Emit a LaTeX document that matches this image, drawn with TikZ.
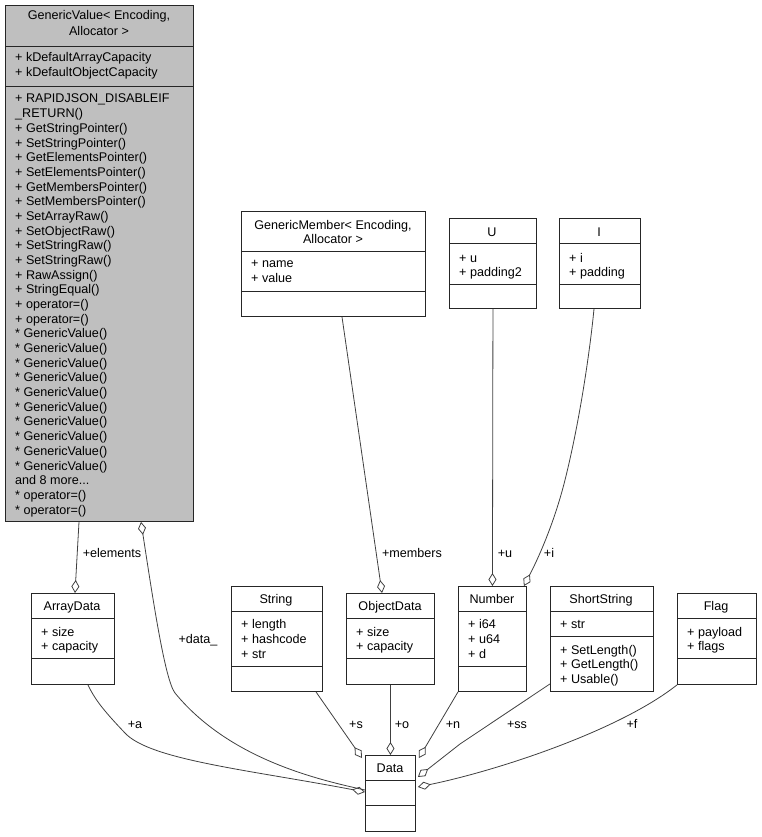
\documentclass[tikz,border=0pt]{standalone}
\usepackage{fontspec}
\setmainfont{Liberation Sans}
\usetikzlibrary{arrows.meta,calc}
\begin{document}
\begin{tikzpicture}[x=1pt,y=-1pt,
  box/.style={draw=black!85,line width=0.9pt,fill=white,inner sep=0pt,anchor=north west},
  lbl/.style={inner sep=0pt,anchor=base west,font=\fontsize{12.6}{14}\selectfont},
  ttl/.style={inner sep=0pt,anchor=base,font=\fontsize{12.6}{14}\selectfont},
  conn/.style={draw=black!75,line width=0.8pt,{Diamond[open,length=13pt,width=8pt,line width=0.8pt]}-},
  elab/.style={inner sep=0pt,anchor=base,font=\fontsize{12.6}{14}\selectfont}]
\useasboundingbox (0,0) rectangle (761,837);
\newcommand{\umlbox}[7]{%
  \node[box,minimum width={#4-#2},minimum height={#5-#3}] (#1) at (#2,#3) {};
  \draw[black!85,line width=0.9pt] (#2,#6) -- (#4,#6) (#2,#7) -- (#4,#7);}
% GenericValue
\node[box,fill={rgb,255:red,191;green,191;blue,191},minimum width=188,minimum height=516] (gv) at (5,5) {};
\draw[black!85,line width=0.9pt] (5,46) -- (193,46) (5,86) -- (193,86);
\node[ttl] (gvt1) at (99,20) {GenericValue< Encoding,};
\node[ttl] (gvt2) at (99,36) {Allocator >};
\node[lbl] (gva1) at (15,62) {+ kDefaultArrayCapacity};
\node[lbl] (gva2) at (15,77) {+ kDefaultObjectCapacity};
\foreach \t [count=\i from 0] in {{+ RAPIDJSON\_DISABLEIF},{\_RETURN()},{+ GetStringPointer()},{+ SetStringPointer()},{+ GetElementsPointer()},{+ SetElementsPointer()},{+ GetMembersPointer()},{+ SetMembersPointer()},{+ SetArrayRaw()},{+ SetObjectRaw()},{+ SetStringRaw()},{+ SetStringRaw()},{+ RawAssign()},{+ StringEqual()},{+ operator=()},{+ operator=()},{* GenericValue()},{* GenericValue()},{* GenericValue()},{* GenericValue()},{* GenericValue()},{* GenericValue()},{* GenericValue()},{* GenericValue()},{* GenericValue()},{* GenericValue()},{and 8 more.{}.{}.},{* operator=()},{* operator=()}}
  \node[lbl] (gvm\i) at (15,103+14.68*\i) {\t};
% GenericMember
\umlbox{gm}{241}{211}{425}{316}{251}{291}
\node[ttl] (gmt1) at (333,229) {GenericMember< Encoding,};
\node[ttl] (gmt2) at (333,243) {Allocator >};
\node[lbl] (gma1) at (251,267) {+ name};
\node[lbl] (gma2) at (251,282) {+ value};
% U
\umlbox{u}{449}{218}{536}{308}{243}{284}
\node[ttl] (ut) at (492,236) {U};
\node[lbl] (ua1) at (459,262) {+ u};
\node[lbl] (ua2) at (459,276) {+ padding2};
% I
\umlbox{i}{559}{218}{640}{308}{243}{284}
\node[ttl] (it) at (599,236) {I};
\node[lbl] (ia1) at (569,262) {+ i};
\node[lbl] (ia2) at (569,276) {+ padding};
% ArrayData
\umlbox{ad}{31}{593}{114}{684}{618}{658}
\node[ttl] (adt) at (72,610) {ArrayData};
\node[lbl] (ada1) at (41,636) {+ size};
\node[lbl] (ada2) at (41,650) {+ capacity};
% String
\umlbox{st}{231}{586}{322}{691}{611}{666}
\node[ttl] (stt) at (276,603) {String};
\node[lbl] (sta1) at (241,628) {+ length};
\node[lbl] (sta2) at (241,643) {+ hashcode};
\node[lbl] (sta3) at (241,658) {+ str};
% ObjectData
\umlbox{od}{346}{593}{434}{684}{618}{658}
\node[ttl] (odt) at (390,610) {ObjectData};
\node[lbl] (oda1) at (356,636) {+ size};
\node[lbl] (oda2) at (356,650) {+ capacity};
% Number
\umlbox{nu}{458}{586}{526}{691}{611}{666}
\node[ttl] (nut) at (492,603) {Number};
\node[lbl] (nua1) at (468,628) {+ i64};
\node[lbl] (nua2) at (468,643) {+ u64};
\node[lbl] (nua3) at (468,658) {+ d};
% ShortString
\umlbox{ss}{550}{586}{653}{691}{611}{636}
\node[ttl] (sst) at (601,603) {ShortString};
\node[lbl] (ssa1) at (560,628) {+ str};
\node[lbl] (ssm1) at (560,654) {+ SetLength()};
\node[lbl] (ssm2) at (560,668) {+ GetLength()};
\node[lbl] (ssm3) at (560,683) {+ Usable()};
% Flag
\umlbox{fl}{677}{593}{756}{684}{618}{658}
\node[ttl] (flt) at (716,610) {Flag};
\node[lbl] (fla1) at (687,636) {+ payload};
\node[lbl] (fla2) at (687,650) {+ flags};
% Data
\umlbox{da}{365}{755}{415}{831}{780}{805}
\node[ttl] (dat) at (390,772) {Data};
% connectors
\draw[conn] ($(ad.north west)+(44,0)$) -- ($(gv.south west)+(74,0)$);
\node[elab] (l1) at (112,557) {+elements};
\draw[conn] ($(gv.south west)+(136,0)$) .. controls (153,600) and (165,680) .. (175,693) .. controls (230,760) and (320,780) .. ($(da.north west)+(0,35)$);
\node[elab] (l2) at (198,643) {+data\_};
\draw[conn] ($(da.north west)+(0,37)$) .. controls (250,770) and (150,760) .. (125,733) .. controls (105,712) and (95,700) .. ($(ad.south west)+(57,0)$);
\node[elab] (l3) at (135,728) {+a};
\draw[conn] ($(od.north west)+(36,0)$) -- ($(gm.south west)+(101,0)$);
\node[elab] (l4) at (412,557) {+members};
\draw[conn] ($(da.north west)+(-3,3)$) -- ($(st.south west)+(85,0)$);
\node[elab] (l5) at (356,728) {+s};
\draw[conn] (da.north) -- (od.south);
\node[elab] (l6) at (402,728) {+o};
\draw[conn] ($(da.north east)+(3,3)$) -- (nu.south west);
\node[elab] (l7) at (453,728) {+n};
\draw[conn] (nu.north) -- (u.south);
\node[elab] (l8) at (505,557) {+u};
\draw[conn] ($(nu.north east)+(-3,0)$) .. controls (540,555) and (555,520) .. (565,480) .. controls (580,420) and (590,350) .. ($(i.south west)+(35,0)$);
\node[elab] (l9) at (549,557) {+i};
\draw[conn] ($(da.north east)+(2,22)$) -- (460,744) -- ($(ss.south west)+(0,-8)$);
\node[elab] (l10) at (517,728) {+ss};
\draw[conn] ($(da.north east)+(2,32)$) .. controls (500,770) and (620,730) .. ($(fl.south west)+(0,0)$);
\node[elab] (l11) at (632,728) {+f};
\end{tikzpicture}
\end{document}
